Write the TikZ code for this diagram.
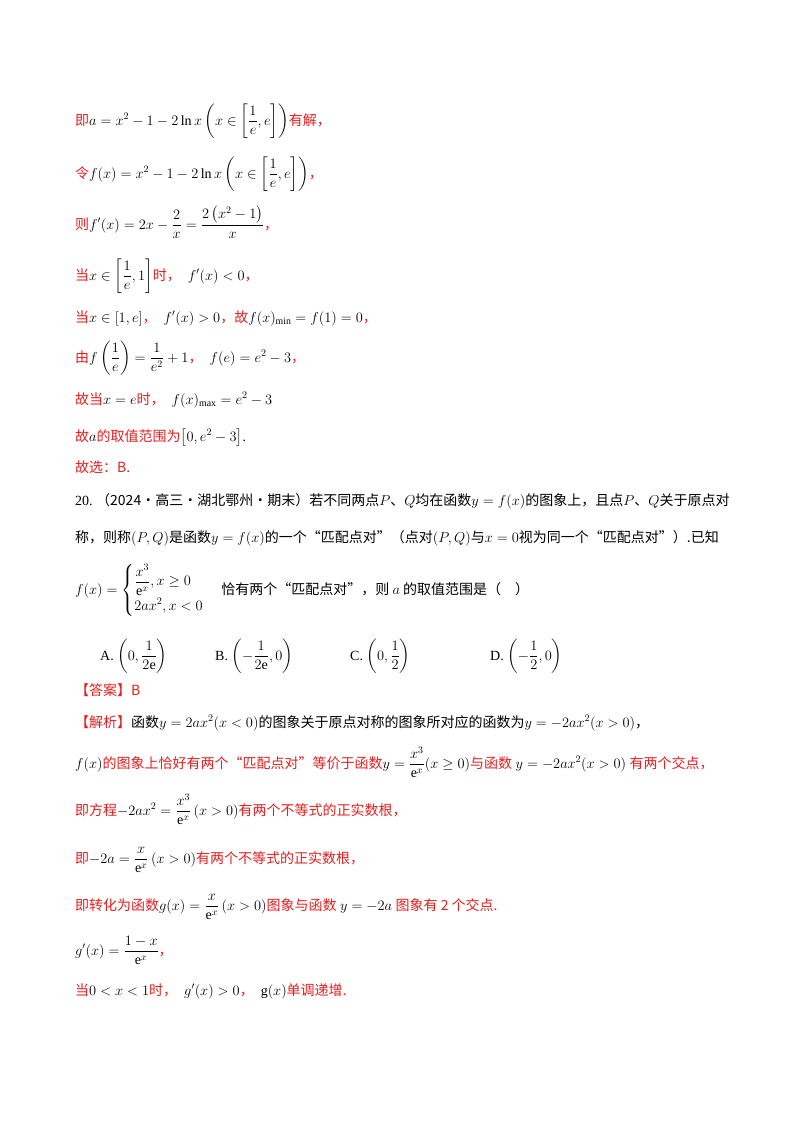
\documentclass[tikz,border=0pt]{standalone}
\usepackage{amsmath}
\usepackage{fontspec}
\setmainfont{Liberation Serif}
\newfontfamily\cjk{Noto Sans CJK SC}
\definecolor{rd}{RGB}{230,30,30}
\newcommand{\zr}[1]{{\cjk\color{rd}#1}}
\newcommand{\zb}[1]{{\cjk #1}}
\begin{document}
\begin{tikzpicture}[x=1pt,y=-1pt,every node/.style={anchor=base west,inner sep=0pt,font=\fontsize{14}{17}\selectfont}]
\useasboundingbox (0,0) rectangle (800,1132);
\node (l1) at (75,125) {\zr{即}$a=x^2-1-2\ln x\left(x\in\left[\dfrac1e,e\right]\right)$\zr{有解，}};
\node (l2) at (75,178) {\zr{令}$f(x)=x^2-1-2\ln x\left(x\in\left[\dfrac1e,e\right]\right)$\zr{，}};
\node (l3) at (75,229) {\zr{则}$f'(x)=2x-\dfrac2x=\dfrac{2\left(x^2-1\right)}{x}$\zr{，}};
\node (l4) at (75,280) {\zr{当}$x\in\left[\dfrac1e,1\right]$\zr{时，}\enspace$f'(x)<0$\zr{，}};
\node (l5) at (75,322) {\zr{当}$x\in[1,e]$\zr{，}\enspace$f'(x)>0$\zr{，故}$f(x)_{\min}=f(1)=0$\zr{，}};
\node (l6) at (75,362) {\zr{由}$f\left(\dfrac1e\right)=\dfrac1{e^2}+1$\zr{，}\enspace$f(e)=e^2-3$\zr{，}};
\node (l7) at (75,404) {\zr{故当}$x=e$\zr{时，}\enspace$f(x)_{\max}=e^2-3$};
\node (l8) at (75,441) {\zr{故}$a$\zr{的取值范围为}$\left[0,e^2-3\right]$.};
\node (l9) at (75,472) {\zr{故选：B.}};
\node (p1) at (75,505) {20.\ \zb{（2024·高三·湖北鄂州·期末）若不同两点}$P$\zb{、}$Q$\zb{均在函数}$y=f(x)$\zb{的图象上，且点}$P$\zb{、}$Q$\zb{关于原点对}};
\node (p2) at (75,542) {\zb{称，则称}$(P,Q)$\zb{是函数}$y=f(x)$\zb{的一个“匹配点对”（点对}$(P,Q)$\zb{与}$x=0$\zb{视为同一个“匹配点对”）.已知}};
\node (p3) at (75,594) {$f(x)=\begin{cases}\dfrac{x^3}{\mathrm e^x},x\ge0\\[2pt] 2ax^2,x<0\end{cases}$\ \zb{恰有两个“匹配点对”，则 $a$ 的取值范围是（\quad）}};
\node (oa) at (100,660) {A.\ $\left(0,\dfrac1{2\mathrm e}\right)$};
\node (ob) at (215,660) {B.\ $\left(-\dfrac1{2\mathrm e},0\right)$};
\node (oc) at (350,660) {C.\ $\left(0,\dfrac12\right)$};
\node (od) at (490,660) {D.\ $\left(-\dfrac12,0\right)$};
\node (s0) at (75,695) {\zr{【答案】B}};
\node (s1) at (75,727) {\zr{【解析】}\zb{函数}$y=2ax^2(x<0)$\zb{的图象关于原点对称的图象所对应的函数为}$y=-2ax^2(x>0)$\zb{，}};
\node (s2) at (75,768) {$f(x)$\zr{的图象上恰好有两个“匹配点对”等价于函数}$y=\dfrac{x^3}{\mathrm e^x}(x\ge0)$\zr{与函数}\ $y=-2ax^2(x>0)$\ \zr{有两个交点，}};
\node (s3) at (75,815) {\zr{即方程}$-2ax^2=\dfrac{x^3}{\mathrm e^x}\,(x>0)$\zr{有两个不等式的正实数根，}};
\node (s4) at (75,863) {\zr{即}$-2a=\dfrac{x}{\mathrm e^x}\,(x>0)$\zr{有两个不等式的正实数根，}};
\node (s5) at (75,910) {\zr{即转化为函数}$g(x)=\dfrac{x}{\mathrm e^x}\,(x>0)$\zr{图象与函数}\ $y=-2a$\ \zr{图象有 2 个交点.}};
\node (s6) at (75,955) {$g'(x)=\dfrac{1-x}{\mathrm e^x}$\zr{，}};
\node (s7) at (75,995) {\zr{当}$0<x<1$\zr{时，}\enspace$g'(x)>0$\zr{，}\enspace$\mathrm g(x)$\zr{单调递增.}};
\end{tikzpicture}
\end{document}
